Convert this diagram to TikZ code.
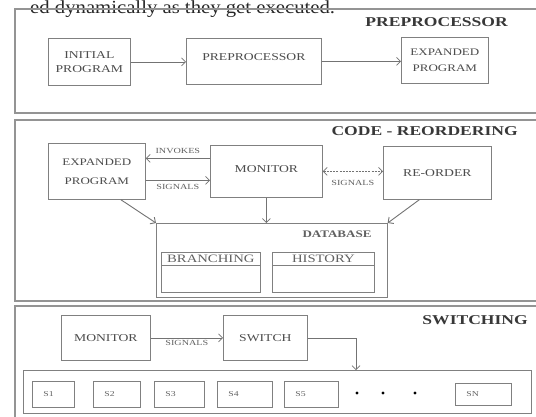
\documentclass[tikz,border=0pt]{standalone}
\usepackage{fontspec}
\setmainfont[FakeStretch=1.3]{Liberation Serif}
\newfontfamily\pagefont[FakeStretch=1.12]{Liberation Serif}
\usetikzlibrary{arrows.meta,calc}
\newcommand\liftxt[2]{\raisebox{#1}[0pt][0pt]{#2}}
\tikzset{
  panel/.style={draw=black!42, line width=1.4pt},
  box/.style={draw=black!50, line width=0.7pt, anchor=north west, inner sep=0pt, align=center,
              font=\fontsize{10.5}{14}\selectfont, text=black!70},
  lbl/.style={font=\fontsize{7.8}{9}\selectfont, text=black!62, inner sep=1pt},
  ttl/.style={font=\fontsize{13.5}{15}\selectfont\bfseries, text=black!78, inner sep=0pt},
  hdr/.style={font=\fontsize{11.3}{13}\selectfont, text=black!62, inner sep=0pt},
  sbox/.style={draw=black!50, line width=0.7pt, anchor=north west, inner xsep=11pt, inner ysep=0pt,
               minimum height=26pt, align=left, font=\fontsize{7.5}{9}\selectfont, text=black!62},
  arr/.style={draw=black!55, line width=0.7pt, -{Straight Barb[length=4pt,width=8pt]}},
  dot/.style={circle, fill=black, inner sep=0pt, minimum size=3.4pt}
}
\begin{document}
\begin{tikzpicture}[x=1pt,y=-1pt]
\clip (0,0) rectangle (536,416);
\fill[white] (0,0) rectangle (536,416);
% caption fragment from the page above
\node[anchor=base west, inner sep=0pt, font=\pagefont\fontsize{18.5}{18.5}\selectfont, text=black!85] (cap) at (30,13) {ed dynamically as they get executed.};
% panels
\draw[panel] (15,9) rectangle (545,113);
\draw[panel] (15,120) rectangle (545,301);
\draw[panel] (15,306) rectangle (545,430);
% ---------- PREPROCESSOR ----------
\node[ttl, anchor=east] (t1) at (508,22) {PREPROCESSOR};
\node[box, minimum width=82pt, minimum height=47pt] (init) at (48,38) {INITIAL\\PROGRAM};
\node[box, minimum width=135pt, minimum height=46pt] (pre) at (186,38) {\liftxt{0.5pt}{PREPROCESSOR}};
\node[box, minimum width=87pt, minimum height=46pt, font=\fontsize{10}{16}\selectfont] (exp1) at (401,37) {EXPANDED\\PROGRAM};
\draw[arr] (init.east) -- (init.east -| pre.west);
\draw[arr] (pre.east) -- (pre.east -| exp1.west);
% ---------- CODE - REORDERING ----------
\node[ttl, anchor=east] (t2) at (518,131) {CODE - REORDERING};
\node[box, minimum width=97pt, minimum height=56pt, font=\fontsize{10}{19}\selectfont] (exp2) at (48,143) {EXPANDED\\PROGRAM};
\node[box, minimum width=112pt, minimum height=52pt] (mon) at (210,145) {\liftxt{-1.5pt}{MONITOR}};
\node[box, minimum width=108pt, minimum height=53pt] (reo) at (383,146) {\liftxt{-3.5pt}{RE-ORDER}};
\node[box, minimum width=231pt, minimum height=74pt] (db) at (156,223) {};
\node[font=\fontsize{10}{12}\selectfont\bfseries, text=black!62, inner sep=0pt] (dbt) at (337,234) {DATABASE};
\node[box, minimum width=99pt, minimum height=40pt] (br) at (161,252) {};
\node[box, minimum width=102pt, minimum height=40pt] (hi) at (272,252) {};
\draw[draw=black!50, line width=0.7pt] ($(br.north west)+(0,13)$) -- ($(br.north east)+(0,13)$);
\draw[draw=black!50, line width=0.7pt] ($(hi.north west)+(0,13)$) -- ($(hi.north east)+(0,13)$);
\node[hdr] (brl) at ($(br.north)+(0,6.5)$) {BRANCHING};
\node[hdr] (hil) at ($(hi.north)+(0,6.5)$) {HISTORY};
\draw[arr] ($(mon.west)+(0,-13)$) -- node[lbl, above=3pt] (inv) {INVOKES} ($(mon.west -| exp2.east)+(0,-13)$);
\draw[arr] ($(mon.west -| exp2.east)+(0,9)$) -- node[lbl, below=3pt] (sig1) {SIGNALS} ($(mon.west)+(0,9)$);
\draw[arr, {Straight Barb[length=4pt,width=8pt]}-{Straight Barb[length=4pt,width=8pt]}, dash pattern=on 2pt off 1.2pt]
  (mon.east) -- node[lbl, below=8pt] (sig2) {SIGNALS} (mon.east -| reo.west);
\draw[arr] (mon.south) -- (mon.south |- db.north);
\draw[arr, line width=0.9pt] ($(exp2.south)+(24,0)$) -- (db.north west);
\draw[arr, line width=0.9pt] ($(reo.south)+(-18,0)$) -- (db.north east);
% ---------- SWITCHING ----------
\node[ttl, anchor=east] (t3) at (528,320) {SWITCHING};
\node[box, minimum width=89pt, minimum height=45pt] (mon3) at (61,315) {MONITOR};
\node[box, minimum width=84pt, minimum height=45pt] (sw) at (223,315) {SWITCH};
\node[box, minimum width=508pt, minimum height=43pt] (scont) at (23,370) {};
\draw[arr] (mon3.east) -- node[lbl, below=1pt] (sig3) {SIGNALS} (mon3.east -| sw.west);
\draw[arr] (sw.east) -| ([xshift=333pt]scont.north west);
\node[sbox, text width=20pt] (s1) at (32,381) {S1};
\node[sbox, text width=25pt] (s2) at (93,381) {S2};
\node[sbox, text width=28pt] (s3) at (154,381) {S3};
\node[sbox, text width=33pt] (s4) at (217,381) {S4};
\node[sbox, text width=32pt] (s5) at (284,381) {S5};
\node[sbox, text width=34pt, minimum height=22pt] (sn) at (455,383) {SN};
\node[dot] (d1) at (357,393) {};
\node[dot] (d2) at (383,393) {};
\node[dot] (d3) at (415,393) {};
\end{tikzpicture}
\end{document}
